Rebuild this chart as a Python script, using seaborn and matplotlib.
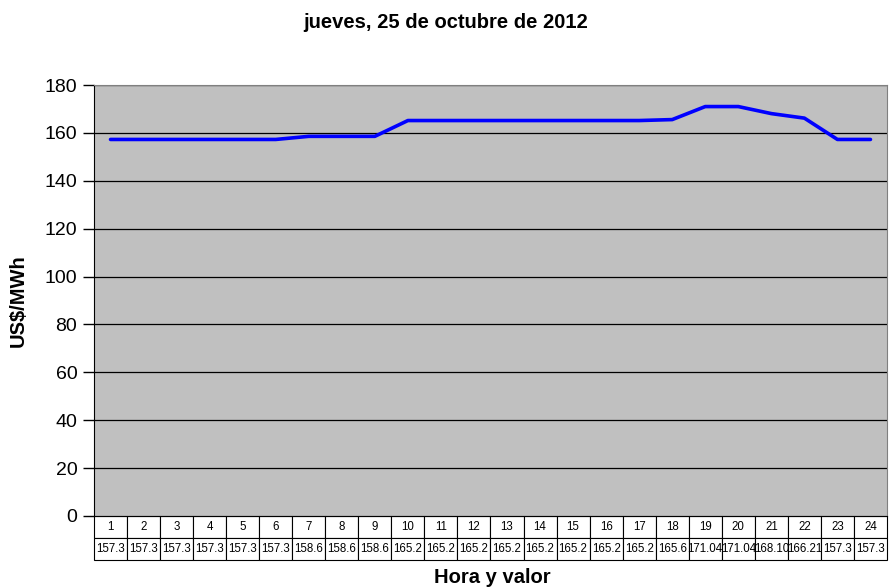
import numpy as np
import pandas as pd
import seaborn as sns
import matplotlib.pyplot as plt

hours = list(range(1, 25))
values = [157.3, 157.3, 157.3, 157.3, 157.3, 157.3, 158.6, 158.6, 158.6,
          165.2, 165.2, 165.2, 165.2, 165.2, 165.2, 165.2, 165.2, 165.6,
          171.04, 171.04, 168.10, 166.21, 157.3, 157.3]
value_labels = ["157.3", "157.3", "157.3", "157.3", "157.3", "157.3", "158.6", "158.6", "158.6",
                "165.2", "165.2", "165.2", "165.2", "165.2", "165.2", "165.2", "165.2", "165.6",
                "171.04", "171.04", "168.10", "166.21", "157.3", "157.3"]

df = pd.DataFrame({"hora": hours, "valor": values})

sns.set_style("white")
plt.rcParams['font.family'] = ['Liberation Sans', 'DejaVu Sans']
plt.rcParams['text.color'] = 'black'
plt.rcParams['ytick.color'] = 'black'
plt.rcParams['axes.labelcolor'] = 'black'

fig = plt.figure(figsize=(8.91, 5.87), dpi=100)
ax = fig.add_axes([0.1055, 0.121, 0.89, 0.734])
ax.set_facecolor('#C0C0C0')

sns.lineplot(data=df, x="hora", y="valor", color='#0000FF', linewidth=2.6, ax=ax)

ax.set_xlim(0.5, 24.5)
ax.set_ylim(0, 180)
ax.set_yticks(range(0, 181, 20))
ax.tick_params(axis='y', labelsize=14, length=8, width=1, direction='out', left=True, pad=4)
ax.set_xticks([])
ax.set_xlabel("")
ax.set_ylabel("US$/MWh", fontsize=14.5, fontweight='bold')
ax.yaxis.set_label_coords(-0.083, 0.5)
for y in range(20, 181, 20):
    ax.axhline(y, color='black', linewidth=0.9, zorder=1)
for s in ['top', 'right']:
    ax.spines[s].set_color('#808080')
    ax.spines[s].set_linewidth(0.8)
ax.spines['left'].set_color('black')
ax.spines['bottom'].set_color('black')

tbl = ax.table(cellText=[[str(h) for h in hours], value_labels],
               cellLoc='center', bbox=[0, -0.102, 1, 0.102])
tbl.auto_set_font_size(False)
tbl.set_fontsize(8.3)
for (r, c), cell in tbl.get_celld().items():
    cell.set_edgecolor('black')
    cell.set_linewidth(0.8)
    cell.set_facecolor('white')
    cell.PAD = 0.02

fig.text(0.5, 0.962, "jueves, 25 de octubre de 2012", ha='center', va='center',
         fontsize=14.5, fontweight='bold')
fig.text(0.553, 0.017, "Hora y valor", ha='center', va='center',
         fontsize=14.5, fontweight='bold')

fig.savefig("out.png", dpi=100)
